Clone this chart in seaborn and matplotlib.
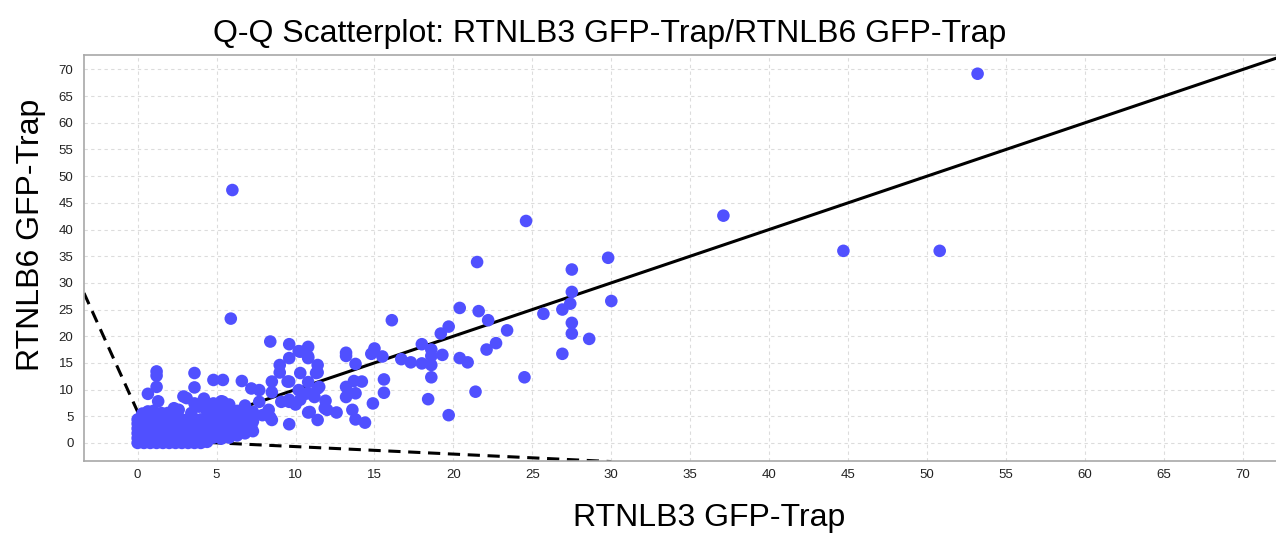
import matplotlib
matplotlib.use("Agg")
import matplotlib.pyplot as plt
import seaborn as sns
import pandas as pd

# scattered points (RTNLB3 on x, RTNLB6 on y)
spread_x = [53.2, 37.1, 44.7, 50.8, 6.0, 5.9, 24.6,
            21.5, 29.8, 27.5, 27.5, 27.4, 30.0, 26.9, 25.7, 27.5, 27.5, 28.6, 26.9, 24.5,
            20.4, 21.6, 22.2, 23.4, 22.7, 22.1, 20.9, 20.4, 21.4, 19.7, 19.7, 19.2, 18.0,
            18.6, 18.6, 19.3, 18.6, 18.0, 17.3, 16.7, 18.6, 18.4, 16.1, 15.5, 15.0, 14.8,
            15.6, 15.6, 14.9, 14.4, 13.8, 13.2, 13.2, 14.2, 13.7, 13.8, 13.2, 13.2, 13.6,
            13.8, 12.6, 12.0, 11.9, 11.4, 11.4, 11.4, 11.4, 10.8, 10.8, 10.2, 9.6, 9.6,
            9.5, 10.8, 10.8, 10.2, 10.8, 9.6, 9.6, 9.1,
            8.4, 9.0, 9.0, 8.5, 9.6, 7.7, 7.2, 8.5, 9.6, 10.3, 10.3, 11.3, 11.5, 10.6,
            11.2, 10.0, 10.9, 11.85, 8.4, 8.3, 7.9, 8.5, 7.2, 7.2, 6.7, 7.7, 6.6, 5.4,
            4.8, 3.6, 3.6, 3.1, 2.3, 4.2, 2.9, 1.2, 1.2, 1.2, 0.65, 1.3, 10.3, 10.8,
            0.65, 1.5, 3.6, 4.2, 4.8, 5.4]
spread_y = [69.2, 42.6, 36.0, 36.0, 47.4, 23.3, 41.6,
            33.9, 34.7, 32.5, 28.3, 26.1, 26.6, 25.0, 24.2, 22.5, 20.5, 19.5, 16.7, 12.3,
            25.3, 24.7, 23.0, 21.1, 18.7, 17.5, 15.1, 15.9, 9.6, 5.2, 21.8, 20.5, 18.5,
            17.5, 16.3, 16.5, 14.6, 14.9, 15.1, 15.7, 12.3, 8.2, 23.0, 16.2, 17.7, 16.7,
            11.9, 9.4, 7.4, 3.8, 14.8, 16.9, 16.3, 11.5, 11.6, 9.3, 10.5, 8.6, 6.2,
            4.4, 5.7, 6.2, 7.9, 4.3, 10.2, 13.2, 14.6, 18.0, 16.2, 17.2, 18.5, 15.9,
            11.5, 11.4, 9.3, 9.9, 5.7, 7.7, 3.5, 7.7,
            19.0, 14.6, 13.2, 11.5, 11.5, 9.9, 10.2, 9.5, 8.1, 8.1, 13.1, 13.1, 10.5, 9.2,
            8.6, 7.2, 5.8, 6.5, 4.8, 6.2, 5.2, 4.3, 4.9, 3.1, 2.4, 7.7, 11.6, 11.8,
            11.8, 13.1, 10.4, 8.4, 6.5, 7.9, 8.7, 13.4, 12.6, 10.5, 9.2, 7.8, 17.1, 15.9,
            5.9, 5.6, 7.4, 8.3, 7.4, 7.7]

# dense block of near-zero values
blob_x = [0.0, 0.0, 0.0, 0.0, 0.0, 0.0, 0.4, 0.4, 0.4, 0.4, 0.4, 0.4,
          0.8, 0.8, 0.8, 0.8, 0.8, 0.8, 1.2, 1.2, 1.2, 1.2, 1.2, 1.2,
          1.6, 1.6, 1.6, 1.6, 1.6, 1.6, 2.0, 2.0, 2.0, 2.0, 2.0, 2.0,
          2.4, 2.4, 2.4, 2.4, 2.4, 2.4, 2.8, 2.8, 2.8, 2.8, 2.8, 2.8,
          3.2, 3.2, 3.2, 3.2, 3.2, 3.2, 3.6, 3.6, 3.6, 3.6, 3.6, 3.6,
          4.0, 4.0, 4.0, 4.0, 4.0, 4.0, 4.4, 4.4, 4.4, 4.4, 4.4, 4.4,
          4.8, 4.8, 4.8, 4.8, 4.8, 5.3, 5.3, 5.3, 5.3, 5.3, 5.3,
          5.8, 5.8, 5.8, 5.8, 5.8, 6.3, 6.3, 6.3, 6.3, 6.8, 6.8, 6.8, 6.8,
          7.3, 7.3, 7.3, 0.3, 1.0, 1.9, 2.6, 3.4, 3.9, 4.4]
blob_y = [0.0, 0.9, 1.8, 2.7, 3.6, 4.4, 0.0, 0.9, 1.8, 2.7, 3.6, 4.4,
          0.0, 0.9, 1.8, 2.7, 3.6, 4.4, 0.0, 0.9, 1.8, 2.7, 3.6, 4.4,
          0.0, 0.9, 1.8, 2.7, 3.6, 4.4, 0.0, 0.9, 1.8, 2.7, 3.6, 4.4,
          0.0, 0.9, 1.8, 2.7, 3.6, 4.4, 0.0, 0.9, 1.8, 2.7, 3.6, 4.4,
          0.0, 0.9, 1.8, 2.7, 3.6, 4.4, 0.0, 0.9, 1.8, 2.7, 3.6, 4.4,
          0.0, 0.9, 1.8, 2.7, 3.6, 4.4, 0.2, 0.9, 1.8, 2.7, 3.6, 4.4,
          1.0, 2.5, 4.0, 5.5, 7.0, 0.8, 2.2, 3.6, 5.0, 6.4, 7.8,
          1.0, 2.6, 4.2, 5.8, 7.2, 1.4, 3.0, 4.6, 6.0, 1.8, 3.4, 5.2, 7.0,
          2.2, 4.0, 5.8, 5.5, 6.0, 5.6, 6.2, 5.6, 6.8, 5.9]

# reference lines: identity line and the two dashed bounds
ident_x = [0.8, 72.5]
ident_y = [0.8, 72.5]
upper_x = [-3.4, 0.8]
upper_y = [28.1, 0.6]
lower_x = [0.8, 30.0]
lower_y = [0.6, -3.5]

ticks = list(range(0, 75, 5))

df = pd.DataFrame({"x": spread_x + blob_x, "y": spread_y + blob_y})

sns.set_style("white")
plt.rcParams['font.family'] = ['Liberation Sans', 'DejaVu Sans']

fig = plt.figure(figsize=(12.76, 5.33), dpi=100)
ax = fig.add_axes([0.0658, 0.135, 0.9342, 0.7617])

ax.plot(ident_x, ident_y, color="black", lw=2.2, zorder=2)
ax.plot(upper_x, upper_y, color="black", lw=2.2, ls=(0, (4, 2.5)), zorder=2)
ax.plot(lower_x, lower_y, color="black", lw=2.2, ls=(0, (4, 2.5)), zorder=2)

sns.scatterplot(data=df, x="x", y="y", ax=ax, color="#5050ff", s=82,
                edgecolor="none", linewidth=0, zorder=3)

ax.set_xlim(-3.4, 72.1)
ax.set_ylim(-3.4, 72.7)
ax.set_xticks(ticks)
ax.set_yticks(ticks)
ax.grid(True, color="#dcdcdc", ls=(0, (3, 3)), lw=0.8)
ax.set_axisbelow(True)
ax.tick_params(axis="both", length=4, width=0.8, color="#888888",
               labelsize=9.5, labelcolor="#222222", direction="out")
ax.tick_params(axis="x", pad=2)
for side in ["left", "top", "bottom"]:
    ax.spines[side].set_color("#a8a8a8")
    ax.spines[side].set_linewidth(1.2)
ax.spines["right"].set_visible(False)

ax.set_xlabel("")
ax.set_ylabel("")
fig.text(0.478, 0.937, "Q-Q Scatterplot: RTNLB3 GFP-Trap/RTNLB6 GFP-Trap",
         ha="center", va="center", fontsize=23, color="black")
fig.text(0.556, 0.028, "RTNLB3 GFP-Trap", ha="center", va="center",
         fontsize=23, color="black")
fig.text(0.024, 0.559, "RTNLB6 GFP-Trap", ha="center", va="center",
         fontsize=23, rotation=90, color="black")

fig.savefig("out.png", dpi=100)
